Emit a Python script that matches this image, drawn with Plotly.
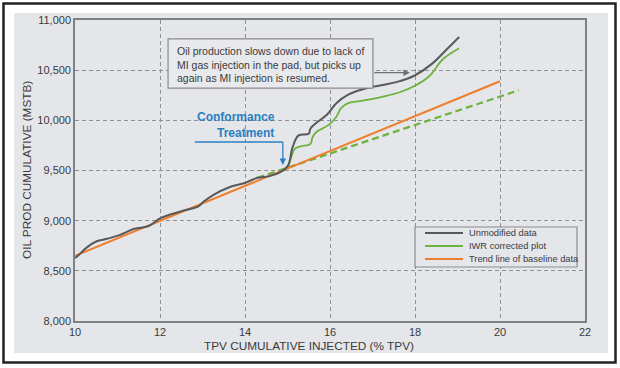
import plotly.graph_objects as go

# Unmodified data (TPV %, MSTB)
unmod_x = [10.0, 10.05, 10.28, 10.51, 10.75, 11.03, 11.4, 11.72, 12.0, 12.24, 12.61, 12.89, 13.03, 13.26,
           13.63, 14.0, 14.29, 14.57, 14.85, 15.01, 15.12, 15.26, 15.5, 15.54, 15.68, 15.92, 16.15, 16.43,
           16.9, 17.31, 17.64, 17.97, 18.39, 18.76, 19.04]
unmod_y = [8630, 8643, 8734, 8795, 8819, 8853, 8920, 8944, 9022, 9062, 9106, 9140, 9191, 9258,
           9333, 9377, 9427, 9444, 9488, 9546, 9732, 9850, 9867, 9918, 9975, 10053, 10171, 10256,
           10324, 10357, 10391, 10442, 10560, 10713, 10831]

# IWR corrected plot
iwr_x = [14.9, 15.03, 15.17, 15.31, 15.54, 15.59, 15.68, 15.96, 16.15, 16.26, 16.43, 16.8, 17.27, 17.64,
         18.01, 18.34, 18.66, 19.04]
iwr_y = [9500, 9563, 9716, 9740, 9766, 9833, 9884, 9952, 10036, 10121, 10171, 10198, 10239, 10280,
         10347, 10442, 10611, 10719]

# IWR corrected trend (dashed)
iwr_trend_x = [14.29, 20.44]
iwr_trend_y = [9427, 10300]

# Trend line of baseline data
trend_x = [10.0, 20.0]
trend_y = [8650, 10390]

x_ticks = [10, 12, 14, 16, 18, 20, 22]
y_ticks = [8000, 8500, 9000, 9500, 10000, 10500, 11000]

legend_names = ["Unmodified data", "IWR corrected plot", "Trend line of baseline data"]
legend_colors = ["#58595b", "#6db33f", "#f07d2a"]

x_title = "TPV CUMULATIVE INJECTED (% TPV)"
y_title = "OIL PROD CUMULATIVE (MSTB)"

FONT = "Liberation Sans, Arial, sans-serif"
PANEL = "#e5e6ea"
TXT = "#3a3a3c"

L, R, T, B = 75, 35, 20, 47
W, H = 620, 368
PW, PH = W - L - R, H - T - B

def px_x(px):
    return (px - L) / PW

def px_y(py):
    return (H - B - py) / PH

fig = go.Figure()
fig.add_trace(go.Scatter(x=iwr_trend_x, y=iwr_trend_y, mode="lines", showlegend=False,
                         line=dict(color=legend_colors[1], width=2.2, dash="7px,4px")))
fig.add_trace(go.Scatter(x=trend_x, y=trend_y, mode="lines", name=legend_names[2], showlegend=False,
                         line=dict(color=legend_colors[2], width=2)))
fig.add_trace(go.Scatter(x=iwr_x, y=iwr_y, mode="lines", name=legend_names[1], showlegend=False,
                         line=dict(color=legend_colors[1], width=1.8, shape="spline")))
fig.add_trace(go.Scatter(x=unmod_x, y=unmod_y, mode="lines", name=legend_names[0], showlegend=False,
                         line=dict(color=legend_colors[0], width=2, shape="spline")))

shapes = [
    dict(type="rect", xref="paper", yref="paper", x0=px_x(14), x1=px_x(608),
         y0=px_y(353), y1=px_y(13), line=dict(width=0),
         fillcolor=PANEL, layer="below"),
    dict(type="rect", xref="paper", yref="paper", x0=px_x(3.5), x1=px_x(615.5),
         y0=px_y(362.5), y1=px_y(3.5), line=dict(color="#222", width=2.5),
         fillcolor="rgba(0,0,0,0)", layer="below"),
    # annotation box
    dict(type="rect", xref="x", yref="y", x0=12.19, x1=17.01, y0=10322, y1=10811,
         line=dict(color="#8a8b8d", width=1.2), fillcolor="#e8e9ec", layer="above"),
    # Conformance line
    dict(type="line", xref="x", yref="y", x0=12.82, x1=14.89, y0=9784, y1=9784,
         line=dict(color="#2a7fc1", width=1.3)),
    dict(type="line", xref="x", yref="y", x0=14.89, x1=14.89, y0=9784, y1=9630,
         line=dict(color="#2a7fc1", width=1.3)),
    # legend box
    dict(type="rect", xref="paper", yref="paper", x0=px_x(415), x1=px_x(577),
         y0=px_y(267), y1=px_y(227), line=dict(color="#8a8b8d", width=1.2),
         fillcolor=PANEL, layer="above"),
]

annotations = [
    dict(x=12.35, y=10561, xref="x", yref="y", xanchor="left", yanchor="middle", showarrow=False,
         align="left", text="Oil production slows down due to lack of<br>MI gas injection in the pad, but picks up<br>again as MI injection is resumed.",
         font=dict(family=FONT, size=10.5, color=TXT)),
    dict(x=17.88, y=10475, ax=17.01, ay=10475, xref="x", yref="y", axref="x", ayref="y",
         showarrow=True, arrowhead=2, arrowsize=1, arrowwidth=1.3, arrowcolor="#6d6e70", text=""),
    dict(x=14.89, y=9554, ax=14.89, ay=9650, xref="x", yref="y", axref="x", ayref="y",
         showarrow=True, arrowhead=2, arrowsize=1, arrowwidth=1.3, arrowcolor="#2a7fc1", text=""),
    dict(x=14.75, y=9958, xref="x", yref="y", xanchor="right", yanchor="middle", showarrow=False,
         align="right", text="<b>Conformance</b><br><b>Treatment</b>",
         font=dict(family=FONT, size=12, color="#2a7fc1")),
    dict(x=px_x(309), y=px_y(346), xref="paper", yref="paper", xanchor="center", yanchor="middle",
         showarrow=False, text=x_title, font=dict(family=FONT, size=11.8, color=TXT)),
    dict(x=px_x(27), y=px_y(170), xref="paper", yref="paper", xanchor="center", yanchor="middle",
         showarrow=False, text=y_title, textangle=-90, font=dict(family=FONT, size=11.8, color=TXT)),
]

leg_y = [233, 246, 259]
for name, color, yy in zip(legend_names, legend_colors, leg_y):
    shapes.append(dict(type="line", xref="paper", yref="paper", x0=px_x(425), x1=px_x(463),
                       y0=px_y(yy), y1=px_y(yy), line=dict(color=color, width=2)))
    annotations.append(dict(x=px_x(467), y=px_y(yy), xref="paper", yref="paper", xanchor="left",
                            yanchor="middle", showarrow=False, text=name,
                            font=dict(family=FONT, size=9.3, color=TXT)))

grid = dict(showgrid=True, gridcolor="#8f9093", griddash="4px,3px", gridwidth=1.2,
            showline=True, linecolor="#7f8083", linewidth=1.6, mirror=True,
            ticks="", zeroline=False, automargin=False)

fig.update_layout(
    width=W, height=H,
    margin=dict(l=L, r=R, t=T, b=B),
    paper_bgcolor="white",
    plot_bgcolor=PANEL,
    shapes=shapes,
    annotations=annotations,
    showlegend=False,
    font=dict(family=FONT, size=11, color=TXT),
    xaxis=dict(range=[10, 22], tickvals=x_ticks, ticktext=[str(v) for v in x_ticks], **grid),
    yaxis=dict(range=[8000, 11000], tickvals=y_ticks, ticktext=[f"{v:,}" for v in y_ticks], **grid),
)

fig.write_html("out.html", config={"displayModeBar": False},
               post_script="document.body.style.margin='0';")
